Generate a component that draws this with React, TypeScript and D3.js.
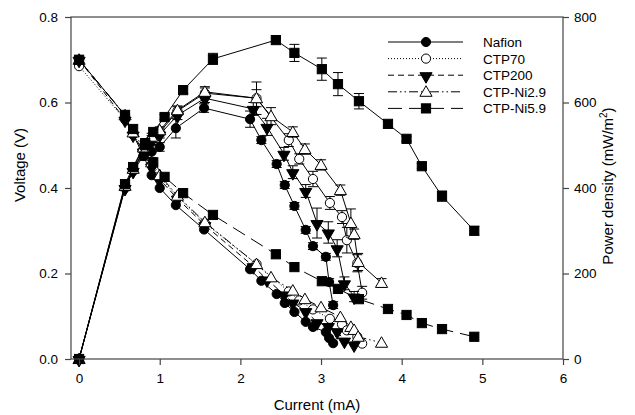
import React, { useEffect, useRef } from 'react';
import * as d3 from 'd3';

const W = 635, H = 415;

const seriesNames = ['Nafion', 'CTP70', 'CTP200', 'CTP-Ni2.9', 'CTP-Ni5.9'];

const nafionCurrent = [0, 0.57, 0.67, 0.8, 0.9, 1.0, 1.2, 1.55, 2.12, 2.26, 2.45, 2.55, 2.67, 2.81, 2.9, 3.06, 3.1, 3.15];
const nafionVoltage = [0.70, 0.57, 0.525, 0.475, 0.43, 0.40, 0.36, 0.303, 0.21, 0.183, 0.152, 0.131, 0.11, 0.087, 0.075, 0.063, 0.049, 0.037];
const nafionPower = [0, 405, 440, 475, 485, 496, 540, 587, 561, 512, 456, 407, 358, 302, 264, 239, 180, 126];
const nafionErr = [0, 8, 6, 10, 14, 10, 23, 10, 19, 8, 8, 8, 8, 8, 8, 8, 8, 8];

const ctp70Current = [0, 0.57, 0.67, 0.8, 0.9, 1.0, 1.22, 1.56, 2.2, 2.6, 2.73, 2.9, 3.11, 3.26, 3.32, 3.45, 3.51];
const ctp70Voltage = [0.685, 0.56, 0.525, 0.49, 0.455, 0.425, 0.38, 0.318, 0.222, 0.158, 0.137, 0.116, 0.094, 0.081, 0.067, 0.052, 0.036];
const ctp70Power = [0, 400, 440, 490, 515, 530, 580, 622, 610, 512, 468, 421, 365, 332, 278, 224, 155];
const ctp70Err = [0, 6, 6, 8, 8, 8, 10, 12, 20, 15, 12, 18, 15, 15, 30, 20, 15];

const ctp200Current = [0, 0.57, 0.67, 0.8, 0.9, 1.0, 1.22, 1.56, 2.16, 2.33, 2.54, 2.65, 2.81, 2.95, 3.09, 3.2, 3.29, 3.41];
const ctp200Voltage = [0.70, 0.56, 0.525, 0.485, 0.45, 0.42, 0.375, 0.313, 0.217, 0.186, 0.151, 0.132, 0.112, 0.086, 0.077, 0.065, 0.043, 0.034];
const ctp200Power = [0, 400, 440, 485, 510, 525, 570, 610, 585, 543, 480, 437, 393, 318, 296, 259, 177, 146];
const ctp200Err = [0, 6, 6, 8, 8, 8, 10, 10, 15, 20, 15, 15, 15, 35, 25, 20, 15, 12];

const ni29Current = [0, 0.57, 0.67, 0.8, 0.9, 1.0, 1.22, 1.56, 2.2, 2.38, 2.65, 2.8, 3.0, 3.24, 3.37, 3.41, 3.46, 3.75];
const ni29Voltage = [0.70, 0.57, 0.53, 0.495, 0.46, 0.43, 0.382, 0.32, 0.222, 0.191, 0.16, 0.14, 0.121, 0.098, 0.075, 0.068, 0.052, 0.038];
const ni29Power = [0, 405, 445, 495, 520, 535, 582, 625, 610, 568, 531, 491, 454, 395, 318, 292, 227, 178];
const ni29Err = [0, 6, 6, 8, 8, 8, 10, 12, 38, 20, 12, 12, 12, 12, 33, 12, 20, 10];

const ni59Current = [0, 0.57, 0.67, 0.82, 0.92, 1.06, 1.29, 1.66, 2.44, 2.67, 3.01, 3.21, 3.47, 3.83, 4.06, 4.25, 4.5, 4.9];
const ni59Voltage = [0.70, 0.571, 0.538, 0.50, 0.46, 0.426, 0.388, 0.337, 0.245, 0.215, 0.182, 0.164, 0.14, 0.117, 0.103, 0.084, 0.07, 0.052];
const ni59Power = [0, 409, 449, 505, 531, 566, 629, 702, 746, 716, 678, 643, 603, 550, 515, 451, 381, 300];
const ni59Err = [0, 8, 6, 6, 6, 6, 8, 13, 5, 20, 26, 27, 18, 6, 6, 6, 12, 10];

const xTicks = [0, 1, 2, 3, 4, 5, 6];
const vTicks = [0, 0.2, 0.4, 0.6, 0.8];
const pTicks = [0, 200, 400, 600, 800];

const currents = [nafionCurrent, ctp70Current, ctp200Current, ni29Current, ni59Current];
const voltages = [nafionVoltage, ctp70Voltage, ctp200Voltage, ni29Voltage, ni59Voltage];
const powers = [nafionPower, ctp70Power, ctp200Power, ni29Power, ni59Power];
const errs = [nafionErr, ctp70Err, ctp200Err, ni29Err, ni59Err];

const markerKinds = ['circle', 'circle', 'triDown', 'triUp', 'square'];
const markerFilled = [true, false, true, false, true];
const dashes = ['none', '1,2', '6,4', '9,3,1.5,3,1.5,3', '14,7'];

const FONT = '"Liberation Sans", Arial, Helvetica, sans-serif';

export default function App() {
  const ref = useRef<SVGSVGElement>(null);
  useEffect(() => {
    document.body.style.margin = '0';
    const svg = d3.select(ref.current);
    svg.selectAll('*').remove();

    const left = 71, right = 563, top = 17, bottom = 359;
    const x = d3.scaleLinear().domain([-0.1, 6]).range([left, right]);
    const yV = d3.scaleLinear().domain([0, 0.8]).range([bottom, top]);
    const yP = d3.scaleLinear().domain([0, 800]).range([bottom, top]);

    const g = svg.append('g');

    const drawMarker = (sel: any, kind: string, filled: boolean, cx: number, cy: number) => {
      const fill = filled ? '#000' : '#fff';
      if (kind === 'circle') {
        sel.append('circle').attr('cx', cx).attr('cy', cy).attr('r', 4.6)
          .attr('fill', fill).attr('stroke', '#000').attr('stroke-width', 1);
      } else if (kind === 'square') {
        sel.append('rect').attr('x', cx - 4.6).attr('y', cy - 4.6).attr('width', 9.2).attr('height', 9.2)
          .attr('fill', fill).attr('stroke', '#000').attr('stroke-width', 1);
      } else {
        const sym = d3.symbol().type(d3.symbolTriangle).size(64)();
        sel.append('path').attr('d', sym)
          .attr('transform', `translate(${cx},${cy + (kind === 'triDown' ? 1 : 1)}) rotate(${kind === 'triDown' ? 180 : 0})`)
          .attr('fill', fill).attr('stroke', '#000').attr('stroke-width', 1);
      }
    };

    // plot
    const plot = g.append('g');
    for (let s = 0; s < 5; s++) {
      const cs = currents[s];
      const pts = cs.map((c, i) => ({ c, v: voltages[s][i], p: powers[s][i], e: errs[s][i] }));
      const lineP = d3.line<any>().x(d => x(d.c)).y(d => yP(d.p));
      const lineV = d3.line<any>().x(d => x(d.c)).y(d => yV(d.v));
      plot.append('path').attr('d', lineP(pts)).attr('fill', 'none').attr('stroke', '#000').attr('stroke-width', 1);
      plot.append('path').attr('d', lineV(pts)).attr('fill', 'none').attr('stroke', '#000').attr('stroke-width', 1)
        .attr('stroke-dasharray', dashes[s]);
      // error bars
      pts.forEach(d => {
        if (d.e > 0) {
          const xc = x(d.c), y1 = yP(d.p - d.e), y2 = yP(d.p + d.e);
          plot.append('line').attr('x1', xc).attr('x2', xc).attr('y1', y1).attr('y2', y2).attr('stroke', '#000');
          plot.append('line').attr('x1', xc - 5).attr('x2', xc + 5).attr('y1', y1).attr('y2', y1).attr('stroke', '#000');
          plot.append('line').attr('x1', xc - 5).attr('x2', xc + 5).attr('y1', y2).attr('y2', y2).attr('stroke', '#000');
        }
      });
      pts.forEach(d => drawMarker(plot, markerKinds[s], markerFilled[s], x(d.c), yP(d.p)));
      pts.forEach(d => drawMarker(plot, markerKinds[s], markerFilled[s], x(d.c), yV(d.v)));
    }

    // frame
    const axisColor = '#444';
    g.append('rect').attr('x', left).attr('y', top).attr('width', right - left).attr('height', bottom - top)
      .attr('fill', 'none').attr('stroke', axisColor).attr('stroke-width', 1.2);

    const styleAxis = (a: any) => {
      a.select('.domain').remove();
      a.selectAll('line').attr('stroke', axisColor).attr('stroke-width', 1.2);
      a.selectAll('text').attr('fill', '#000').style('font-family', FONT).style('font-size', '13.5px');
    };

    const ax = g.append('g').attr('transform', `translate(0,${bottom})`)
      .call(d3.axisBottom(x).tickValues(xTicks).tickFormat(d3.format('d')).tickSize(6).tickPadding(8));
    styleAxis(ax);
    const ayl = g.append('g').attr('transform', `translate(${left},0)`)
      .call(d3.axisLeft(yV).tickValues(vTicks).tickFormat(d3.format('.1f')).tickSize(6).tickPadding(7));
    styleAxis(ayl);
    const ayr = g.append('g').attr('transform', `translate(${right},0)`)
      .call(d3.axisRight(yP).tickValues(pTicks).tickFormat(d3.format('d')).tickSize(6).tickPadding(5));
    styleAxis(ayr);

    // titles
    g.append('text').attr('x', (left + right) / 2).attr('y', 410).attr('text-anchor', 'middle')
      .style('font-family', FONT).style('font-size', '15px').text('Current (mA)');
    g.append('text').attr('transform', `translate(25,165) rotate(-90)`).attr('text-anchor', 'middle')
      .style('font-family', FONT).style('font-size', '15px').text('Voltage (V)');
    const rt = g.append('text').attr('transform', `translate(613,186) rotate(-90)`).attr('text-anchor', 'middle')
      .style('font-family', FONT).style('font-size', '15px');
    rt.append('tspan').text('Power density (mW/m');
    rt.append('tspan').attr('dy', -6).style('font-size', '10px').text('2');
    rt.append('tspan').attr('dy', 6).text(')');

    // legend
    const legY = [42, 58.6, 75.2, 91.8, 108.4];
    const leg = g.append('g');
    seriesNames.forEach((name, i) => {
      const yy = legY[i];
      leg.append('line').attr('x1', 388).attr('x2', 463).attr('y1', yy).attr('y2', yy)
        .attr('stroke', '#000').attr('stroke-width', 1).attr('stroke-dasharray', dashes[i]);
      drawMarker(leg, markerKinds[i], markerFilled[i], 426, yy);
      leg.append('text').attr('x', 483).attr('y', yy + 5).style('font-family', FONT).style('font-size', '13.5px')
        .text(name);
    });
  }, []);
  return <svg ref={ref} width={W} height={H} style={{ display: 'block', background: '#fff' }} />;
}
